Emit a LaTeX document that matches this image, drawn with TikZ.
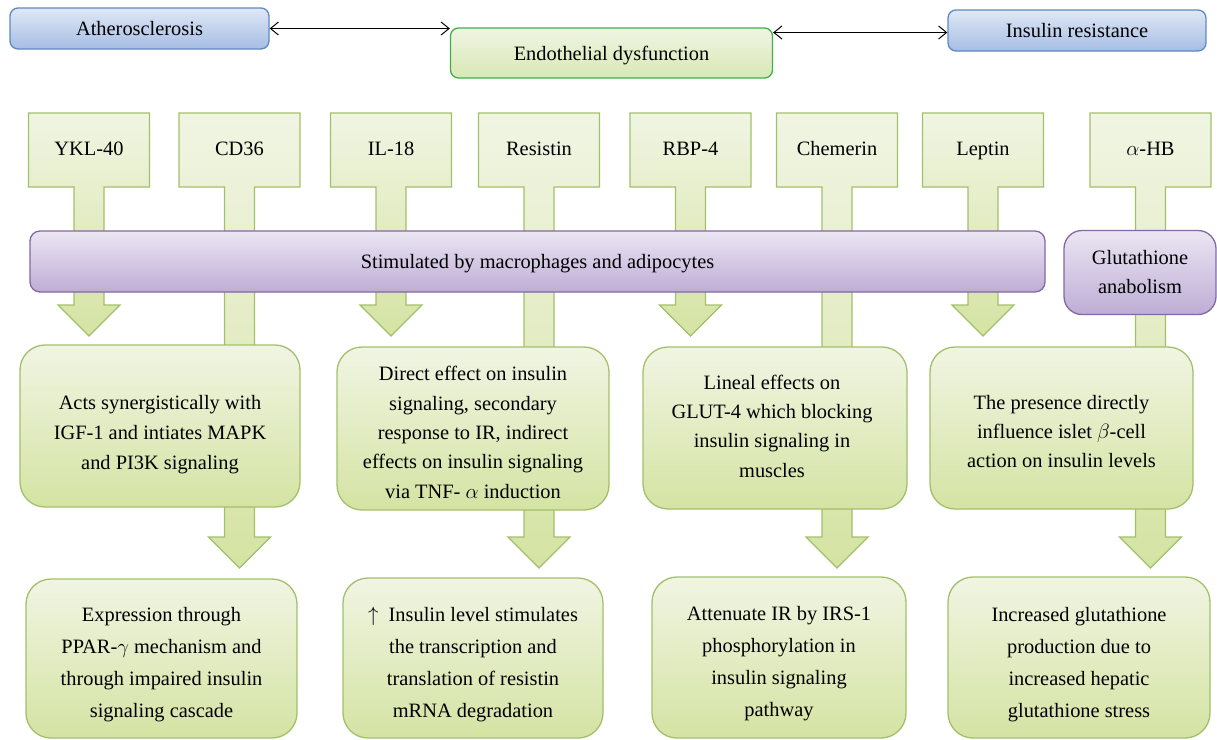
\documentclass[tikz,border=0pt]{standalone}
\usepackage{fontspec}
\setmainfont{Liberation Serif}
\usetikzlibrary{arrows.meta}

\definecolor{greenline}{HTML}{A2C06A}
\definecolor{greentop}{HTML}{F0F5E3}
\definecolor{greenbot}{HTML}{D5E3A3}
\definecolor{endoline}{HTML}{3DB04E}
\definecolor{endobot}{HTML}{D8E8B4}
\definecolor{purpline}{HTML}{8268A4}
\definecolor{purptop}{HTML}{EBE6F3}
\definecolor{purpbot}{HTML}{BEADD5}
\definecolor{blueline}{HTML}{5E88C6}
\definecolor{bluetop}{HTML}{DFE8F5}
\definecolor{bluebot}{HTML}{A6BDE4}

\begin{document}
\begin{tikzpicture}[x=1pt, y=-1pt, >={Straight Barb[length=8pt,width=13pt]},
    txt/.style={font=\fontsize{20.4}{30}\selectfont, align=center, inner sep=0pt},
    oneline/.style={txt, text height=16pt, text depth=2pt},
    bluebox/.style={oneline, line width=1.3pt, draw=blueline, top color=bluetop, bottom color=bluebot, rounded corners=8pt},
    endobox/.style={oneline, line width=1.3pt, draw=endoline, top color=greentop, bottom color=endobot, rounded corners=8pt},
    purpbox/.style={txt, line width=1.3pt, draw=purpline, top color=purptop, bottom color=purpbot},
    greenbox/.style={line width=1.3pt, draw=greenline, top color=greentop, bottom color=greenbot, rounded corners=25pt},
    marker/.style={line width=1.3pt, draw=greenline, top color=greentop, bottom color=greenbot},
    wide/.style={txt, font=\fontsize{20.4}{32}\selectfont},
  ]
  \useasboundingbox (0,0) rectangle (1217,739);

  % markers, each with its block arrow
  \foreach \cx/\nm/\lbl/\hs [
      evaluate={\tp using \hs+31}
    ] in {89/ykl/YKL-40/305, 239.5/cd/CD36/537, 391/il/IL-18/305, 539/res/Resistin/537,
          690.5/rbp/RBP-4/305, 837/chem/Chemerin/537, 983/lep/Leptin/305, 1150.5/hb/{$\alpha$-HB}/537} {
    \path[marker] (\cx-60.5,113) -- (\cx+60.5,113) -- (\cx+60.5,187) -- (\cx+15,187) -- (\cx+15,\hs)
      -- (\cx+31,\hs) -- (\cx,\tp) -- (\cx-31,\hs) -- (\cx-15,\hs) -- (\cx-15,187) -- (\cx-60.5,187) -- cycle;
    \node[oneline] (\nm) at (\cx,148) {\lbl};
  }

  % top row
  \node[bluebox, minimum width=259pt, minimum height=41pt] (ath) at (139.5,28.5) {Atherosclerosis};
  \node[endobox, minimum width=322pt, minimum height=50pt] (endo) at (611.5,53) {Endothelial dysfunction};
  \node[bluebox, minimum width=258pt, minimum height=41pt] (insres) at (1077,30.5) {Insulin resistance};
  \draw[<->, line width=1pt] (ath.east) -- (ath.east -| endo.west);
  \draw[<->, line width=1pt] ([yshift=-2pt]endo.east |- insres.west) -- ([yshift=-2pt]insres.west);

  % purple bars
  \node[purpbox, oneline, rounded corners=10pt, minimum width=1015pt, minimum height=61pt] (stim) at (537.5,261.5)
    {Stimulated by macrophages and adipocytes};
  \node[purpbox, rounded corners=18pt, minimum width=152pt, minimum height=84pt,
    font=\fontsize{20.4}{29}\selectfont] (glut) at (1140,272.5) {Glutathione\\anabolism};

  % Row 2
  \node[greenbox, minimum width=280pt, minimum height=162pt] (acts) at (160,426) {};
  \node[txt] (actstxt) at (160,435)
    {Acts synergistically with\\IGF-1 and intiates MAPK\\and PI3K signaling};
  \node[greenbox, minimum width=272pt, minimum height=163pt] (direct) at (473,428.5) {};
  \node[txt, font=\fontsize{20.4}{29.3}\selectfont] (directtxt) at (473,432.5)
    {Direct effect on insulin\\signaling, secondary\\response to IR, indirect\\effects on insulin signaling\\via TNF- $\alpha$ induction};
  \node[greenbox, minimum width=264pt, minimum height=162pt] (lineal) at (775,428) {};
  \node[txt, font=\fontsize{20.4}{29.3}\selectfont] (linealtxt) at (772,426)
    {Lineal effects on\\GLUT-4 which blocking\\insulin signaling in\\muscles};
  \node[greenbox, minimum width=263pt, minimum height=162pt] (presence) at (1061.5,428) {};
  \node[txt, font=\fontsize{20.4}{29.3}\selectfont] (presencetxt) at (1061.5,431.5)
    {The presence directly\\influence islet $\beta$-cell\\action on insulin levels};

  % Row 3
  \node[greenbox, minimum width=271pt, minimum height=159pt] (expr) at (161.5,658.5) {};
  \node[wide] (exprtxt) at (161.5,664.5)
    {Expression through\\PPAR-$\gamma$ mechanism and\\through impaired insulin\\signaling cascade};
  \node[greenbox, minimum width=260pt, minimum height=160pt] (level) at (473,658) {};
  \node[wide] (leveltxt) at (473,664)
    {$\uparrow$\ \ Insulin level stimulates\\the transcription and\\translation of resistin\\mRNA degradation};
  \node[greenbox, minimum width=254pt, minimum height=161pt] (atten) at (779,657.5) {};
  \node[wide] (attentxt) at (779,663.5)
    {Attenuate IR by IRS-1\\phosphorylation in\\insulin signaling\\pathway};
  \node[greenbox, minimum width=262pt, minimum height=161pt] (gprod) at (1079,657.5) {};
  \node[wide] (gprodtxt) at (1079,664.5)
    {Increased glutathione\\production due to\\increased hepatic\\glutathione stress};
\end{tikzpicture}
\end{document}
